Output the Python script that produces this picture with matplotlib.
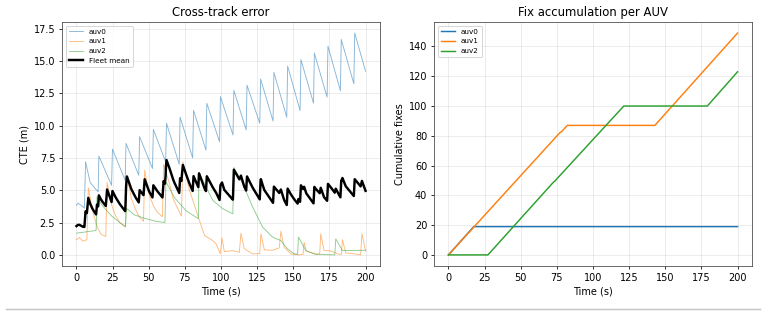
import numpy as np
import matplotlib
matplotlib.use("Agg")
import matplotlib.pyplot as plt
from matplotlib.lines import Line2D

# cross-track error per AUV (time in s, CTE in m)
auv0_t = [0, 1, 3, 5.5, 6.3, 9.5, 15.0, 15.5, 24.3, 24.9, 33.7, 34.3, 43.1,
          43.7, 52.6, 53.2, 61.7, 62.3, 71.1, 71.7, 80.4, 81.0, 89.6, 90.2,
          99.0, 99.6, 108.3, 108.9, 117.4, 118.0, 126.8, 127.4, 136.0, 136.6,
          145.5, 146.1, 154.7, 155.3, 164.0, 164.6, 173.4, 174.0, 182.6,
          183.2, 191.9, 192.5, 200]
auv0_v = [3.83, 4.0, 3.85, 3.62, 7.2, 5.6, 4.87, 7.64, 5.38, 8.18, 5.77, 8.62,
          6.16, 9.14, 6.68, 9.7, 7.2, 10.18, 7.0, 10.65, 7.5, 11.18, 8.1,
          11.72, 8.75, 12.24, 9.27, 12.72, 9.66, 13.12, 10.18, 13.6, 10.35,
          14.11, 10.64, 14.6, 11.16, 15.1, 11.73, 15.6, 12.2, 16.14, 12.69,
          16.66, 13.23, 17.15, 14.2]

auv1_t = [0, 2, 4.5, 7.2, 8.2, 11.2, 14.2, 17, 20.3, 21.2, 24.2, 27.2, 30,
          33.8, 34.9, 37.9, 40.9, 43.5, 46.4, 47.2, 50.2, 53.2, 56, 59.5,
          60.3, 64.4, 67, 72.6, 73.6, 78.2, 85.1, 88.6, 94.3, 96.6, 99.5,
          100.7, 102.3, 108, 112.7, 113.8, 116.1, 121.9, 126.8, 127.6, 130,
          135.7, 140.3, 141.4, 143.7, 148.3, 154, 156.8, 157.5, 159, 165.6,
          168.3, 169, 171.3, 176, 181.6, 183.3, 184, 186.3, 191, 196.6,
          197.5, 200]
auv1_v = [1.17, 1.35, 1.06, 1.17, 5.18, 3.4, 2.2, 1.6, 1.42, 5.6, 3.9, 3.0,
          2.5, 2.15, 6.16, 4.4, 3.5, 2.95, 2.6, 6.55, 4.7, 3.8, 3.3, 2.95,
          7.0, 5.5, 4.3, 3.0, 7.2, 5.0, 2.66, 1.5, 1.11, 0.85, 0.08, 1.32,
          0.25, 0.33, 0.2, 1.68, 0.47, 0.08, 0.1, 1.63, 0.39, 0.36, 0.54,
          1.83, 0.59, 0.08, 0.0, 0.05, 0.98, 0.3, 0.05, 0.1, 1.63, 0.35, 0.3,
          0.05, 0.05, 1.17, 0.15, 0.1, 0.0, 1.63, 0.3]

auv2_t = [0, 13.6, 14.2, 18, 24.4, 30, 34.0, 34.6, 40, 48, 55, 61.2, 61.9,
          68, 76, 84.3, 84.8, 94.3, 101.2, 108.2, 108.8, 115, 121.9, 128.8,
          135.7, 141.4, 146, 150.6, 153.0, 153.6, 158.7, 165.6, 178.7, 179.4,
          184, 200]
auv2_v = [1.68, 1.89, 4.5, 3.8, 3.0, 2.5, 2.2, 3.6, 3.1, 2.8, 2.6, 2.5, 5.64,
          4.4, 3.4, 2.8, 6.34, 4.22, 3.57, 3.18, 6.76, 5.52, 3.7, 2.15, 1.37,
          1.11, 0.47, 0.08, 0.05, 1.37, 0.33, 0.05, 0.0, 1.24, 0.33, 0.36]

# cumulative fixes per AUV
fix0_t = [0, 17.5, 200]
fix0_v = [0, 19, 19]
fix1_t = [0, 77, 78.5, 82.2, 142.8, 200]
fix1_v = [0, 82, 83, 87, 87, 149]
fix2_t = [0, 27.3, 72.4, 73.5, 121.3, 179.1, 200]
fix2_v = [0, 0, 48.6, 49.5, 100, 100, 123]

names = ["auv0", "auv1", "auv2"]
colors = ["#1f77b4", "#ff7f0e", "#2ca02c"]

# fleet mean on the common time base
t_all = np.union1d(np.union1d(auv0_t, auv1_t), auv2_t)
fleet_mean = (np.interp(t_all, auv0_t, auv0_v) + np.interp(t_all, auv1_t, auv1_v)
              + np.interp(t_all, auv2_t, auv2_v)) / 3

fig = plt.figure(figsize=(766 / 70, 334 / 70), dpi=70)
ax1 = fig.add_axes([62 / 766, 68 / 334, 318 / 766, 244 / 334])
ax2 = fig.add_axes([434 / 766, 68 / 334, 318 / 766, 244 / 334])

cte = [(auv0_t, auv0_v), (auv1_t, auv1_v), (auv2_t, auv2_v)]
for (t, v), name, c in zip(cte, names, colors):
    ax1.plot(t, v, color=c, lw=0.9, alpha=0.55, label=name)
ax1.plot(t_all, fleet_mean, color="black", lw=2.5, label="Fleet mean")
ax1.set_title("Cross-track error", fontsize=12)
ax1.set_xlabel("Time (s)")
ax1.set_ylabel("CTE (m)")
ax1.set_xticks(np.arange(0, 201, 25))
ax1.grid(True, alpha=0.3)
ax1.legend(loc="upper left", fontsize=7.5)

fixes = [(fix0_t, fix0_v), (fix1_t, fix1_v), (fix2_t, fix2_v)]
for (t, v), name, c in zip(fixes, names, colors):
    ax2.plot(t, v, color=c, lw=1.5, label=name)
ax2.set_title("Fix accumulation per AUV", fontsize=12)
ax2.set_xlabel("Time (s)")
ax2.set_ylabel("Cumulative fixes")
ax2.set_xticks(np.arange(0, 201, 25))
ax2.grid(True, alpha=0.3)
ax2.legend(loc="upper left", fontsize=7.5)

for ax in (ax1, ax2):
    for s in ax.spines.values():
        s.set_color("#444444")

# separator rule below the figure
fig.add_artist(Line2D([6 / 766, 760 / 766], [25 / 334, 25 / 334],
                      color="#c4c4c4", lw=1.5))

fig.savefig("out.png", dpi=70)
